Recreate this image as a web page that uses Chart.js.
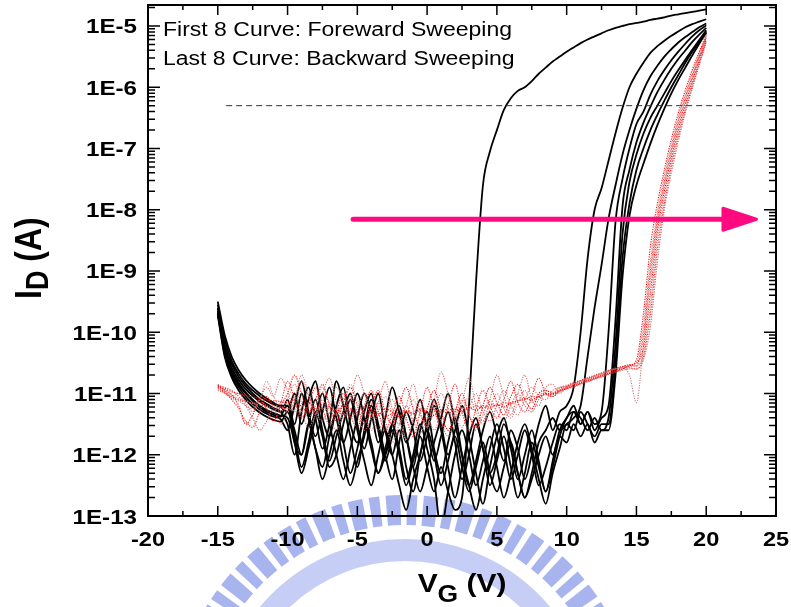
<!DOCTYPE html>
<html>
<head>
<meta charset="utf-8">
<title>ID-VG hysteresis sweeps</title>
<script src="https://cdn.jsdelivr.net/npm/chart.js@4.4.1/dist/chart.umd.min.js"></script>
<style>
  html, body { margin: 0; padding: 0; background: #fff; overflow: hidden; }
</style>
</head>
<body>
<canvas id="idvg" width="791" height="607"></canvas>
<script>
// Gate voltage grid shared by every sweep (V)
const vgGrid = [
  -15, -14.5, -14, -13.5, -13, -12.5, -12, -11.5, -11, -10.5,
  -10, -9.5, -9, -8.5, -8, -7.5, -7, -6.5, -6, -5.5,
  -5, -4.5, -4, -3.5, -3, -2.5, -2, -1.5, -1, -0.5,
  0, 0.5, 1, 1.5, 2, 2.5, 3, 3.5, 4, 4.5,
  5, 5.5, 6, 6.5, 7, 7.5, 8, 8.5, 9, 9.5,
  10, 10.5, 11, 11.5, 12, 12.5, 13, 13.5, 14, 14.5,
  15, 15.5, 16, 16.5, 17, 17.5, 18, 18.5, 19, 19.5, 20
];

// Forward sweeps, log10(ID / A) at each grid voltage
const fwd1 = [
  -9.5, -10.05, -10.4, -10.62, -10.78, -10.9, -11.0, -11.08, -11.15, -11.2,
  -11.2, -11.8, -12.0, -11.5, -11.9, -12.2, -11.7, -11.3, -11.8, -12.3,
  -11.9, -11.4, -11.8, -12.3, -12.0, -11.6, -12.0, -12.5, -12.1, -11.7,
  -12.2, -12.6, -12.2, -12.6, -12.9, -12.7, -11.2, -9.2, -7.6, -7.05,
  -6.7, -6.37, -6.18, -6.06, -6.0, -5.9, -5.78, -5.68, -5.58, -5.5,
  -5.42, -5.35, -5.28, -5.22, -5.17, -5.12, -5.07, -5.03, -5.0, -4.97,
  -4.95, -4.93, -4.9, -4.88, -4.86, -4.83, -4.81, -4.79, -4.77, -4.75, -4.73
];
const fwd2 = [
  -9.55, -10.12, -10.47, -10.68, -10.84, -10.95, -11.04, -11.12, -11.18, -11.22,
  -11.3, -11.0, -11.5, -11.1, -10.8, -11.4, -11.7, -11.2, -10.9, -11.5,
  -11.8, -11.3, -11.0, -11.6, -12.0, -11.5, -11.2, -11.7, -12.2, -11.6,
  -11.3, -11.9, -12.3, -11.8, -11.4, -12.0, -12.5, -12.1, -11.6, -11.3,
  -11.7, -12.1, -11.6, -11.9, -12.4, -12.0, -11.5, -11.2, -11.6, -11.3,
  -11.2, -10.9, -10.0, -8.8, -8.0, -7.65, -7.2, -6.75, -6.34, -6.0,
  -5.78, -5.6, -5.44, -5.33, -5.24, -5.16, -5.09, -5.02, -4.97, -4.93, -4.89
];
const fwd3 = [
  -9.6, -10.2, -10.52, -10.73, -10.88, -11.0, -11.1, -11.17, -11.24, -11.3,
  -11.5, -12.0, -11.3, -10.9, -11.4, -11.9, -11.5, -10.8, -11.2, -11.7,
  -12.2, -11.6, -11.1, -11.5, -12.0, -12.4, -11.8, -11.3, -11.6, -12.1,
  -11.7, -11.2, -11.6, -12.2, -12.7, -12.2, -11.7, -11.4, -11.9, -12.3,
  -12.0, -11.5, -11.8, -12.3, -12.7, -12.3, -11.8, -11.6, -11.4, -11.6,
  -11.5, -11.4, -11.2, -10.4, -9.6, -8.9, -8.15, -7.6, -7.1, -6.7,
  -6.35, -6.05, -5.82, -5.65, -5.5, -5.38, -5.27, -5.18, -5.1, -5.02, -4.96
];
const fwd4 = [
  -9.62, -10.25, -10.58, -10.78, -10.93, -11.04, -11.13, -11.2, -11.26, -11.3,
  -11.2, -11.6, -12.0, -11.5, -11.1, -11.6, -12.1, -11.7, -11.3, -11.0,
  -11.5, -11.9, -11.4, -11.0, -11.6, -12.0, -11.6, -12.2, -12.6, -12.0,
  -11.5, -11.1, -11.5, -12.0, -11.6, -11.2, -11.7, -12.3, -12.8, -12.2,
  -11.7, -11.4, -11.9, -12.4, -12.0, -11.6, -12.1, -12.6, -12.2, -11.7,
  -11.4, -11.3, -11.5, -11.3, -11.5, -11.3, -10.0, -8.2, -7.5, -7.0,
  -6.6, -6.4, -6.12, -5.9, -5.72, -5.56, -5.42, -5.29, -5.17, -5.07, -4.99
];
const fwd5 = [
  -9.65, -10.3, -10.62, -10.83, -10.98, -11.1, -11.2, -11.27, -11.32, -11.36,
  -11.4, -11.8, -12.3, -11.9, -11.4, -11.0, -11.5, -12.0, -12.4, -11.9,
  -11.4, -11.0, -11.3, -11.8, -11.4, -10.9, -11.3, -11.8, -11.5, -11.1,
  -11.6, -12.1, -11.7, -11.3, -11.8, -12.4, -12.0, -11.5, -11.9, -12.5,
  -12.1, -11.7, -12.2, -12.7, -12.3, -11.8, -12.2, -12.6, -12.1, -11.6,
  -11.4, -11.2, -11.5, -11.3, -11.6, -11.4, -11.2, -9.8, -7.95, -7.35,
  -6.9, -6.58, -6.32, -6.08, -5.88, -5.7, -5.54, -5.4, -5.26, -5.14, -5.03
];
const fwd6 = [
  -9.68, -10.33, -10.66, -10.86, -11.0, -11.12, -11.22, -11.3, -11.35, -11.38,
  -11.1, -11.5, -11.0, -11.4, -11.9, -12.4, -12.0, -11.6, -12.1, -12.5,
  -12.1, -11.7, -11.2, -11.6, -12.1, -11.7, -11.3, -11.7, -12.2, -12.6,
  -12.2, -11.8, -11.4, -11.0, -11.5, -12.0, -12.5, -12.9, -12.4, -11.9,
  -11.5, -11.9, -12.4, -12.0, -11.6, -12.0, -12.5, -12.2, -11.8, -11.5,
  -11.6, -11.3, -11.4, -11.6, -11.4, -11.6, -11.4, -10.2, -8.4, -7.55,
  -7.1, -6.76, -6.5, -6.3, -6.1, -5.9, -5.72, -5.55, -5.39, -5.23, -5.07
];
const fwd7 = [
  -9.7, -10.37, -10.7, -10.9, -11.05, -11.17, -11.26, -11.33, -11.38, -11.42,
  -11.6, -11.2, -10.8, -11.3, -11.7, -11.3, -10.9, -11.4, -11.8, -11.4,
  -11.0, -11.4, -11.9, -12.3, -11.9, -11.5, -11.9, -12.4, -12.0, -11.5,
  -11.9, -12.4, -13.2, -12.6, -12.0, -11.6, -12.0, -12.5, -12.1, -11.7,
  -12.2, -12.7, -12.3, -11.8, -11.5, -11.9, -12.4, -12.8, -12.3, -11.9,
  -11.5, -11.6, -11.3, -11.5, -11.7, -11.5, -11.5, -10.5, -8.8, -7.9,
  -7.35, -7.0, -6.7, -6.45, -6.22, -6.0, -5.8, -5.6, -5.42, -5.26, -5.09
];
const fwd8 = [
  -9.72, -10.4, -10.74, -10.95, -11.1, -11.22, -11.31, -11.38, -11.43, -11.46,
  -11.3, -11.7, -12.2, -11.8, -11.3, -11.7, -12.2, -12.0, -11.5, -11.1,
  -11.6, -12.1, -12.5, -12.0, -11.6, -12.0, -12.5, -12.9, -12.4, -12.0,
  -11.6, -12.0, -12.5, -12.1, -11.7, -12.2, -12.6, -12.2, -11.8, -12.3,
  -12.6, -12.2, -11.8, -12.3, -12.7, -12.4, -12.0, -11.7, -12.0, -11.7,
  -11.8, -11.5, -11.7, -11.5, -11.8, -11.6, -11.6, -10.7, -9.1, -8.1,
  -7.6, -7.25, -6.92, -6.62, -6.35, -6.1, -5.88, -5.68, -5.48, -5.29, -5.11
];

// Backward sweeps, log10(ID / A) on the same grid
const bwd1 = [
  -10.88, -10.92, -10.97, -11.0, -11.03, -11.06, -11.08, -11.1, -11.12, -11.13,
  -11.15, -11.1, -11.2, -11.15, -11.25, -11.18, -11.22, -11.3, -11.2, -11.25,
  -11.3, -11.22, -11.28, -11.35, -11.25, -11.3, -11.38, -11.28, -11.32, -11.26,
  -11.3, -11.36, -11.27, -11.33, -11.25, -11.3, -11.22, -11.28, -11.2, -11.24,
  -11.18, -11.22, -11.15, -11.12, -11.08, -11.1, -11.05, -11.0, -11.02, -10.96,
  -10.92, -10.88, -10.84, -10.8, -10.76, -10.72, -10.68, -10.64, -10.6, -10.55,
  -10.45, -9.7, -8.6, -7.9, -7.35, -6.85, -6.42, -6.05, -5.72, -5.42, -5.14
];
const bwd2 = [
  -10.85, -10.95, -11.05, -11.0, -11.15, -11.3, -11.1, -10.9, -11.05, -10.75,
  -10.95, -11.3, -10.8, -11.05, -11.35, -11.0, -10.75, -11.15, -11.4, -11.1,
  -10.7, -11.0, -11.35, -11.15, -10.8, -11.25, -11.5, -11.2, -10.85, -11.3,
  -11.5, -11.1, -10.65, -11.0, -11.4, -11.15, -10.75, -11.2, -11.45, -11.1,
  -10.7, -11.05, -11.35, -11.0, -10.7, -11.1, -11.2, -10.9, -10.85, -11.0,
  -10.9, -10.85, -10.8, -10.76, -10.72, -10.68, -10.64, -10.6, -10.57, -10.53,
  -10.5, -9.9, -8.85, -8.05, -7.45, -6.95, -6.5, -6.12, -5.78, -5.46, -5.16
];
const bwd3 = [
  -10.9, -10.98, -11.1, -11.25, -11.45, -11.55, -11.3, -11.05, -11.2, -11.15,
  -10.8, -11.1, -11.4, -11.2, -10.9, -11.25, -11.5, -11.3, -11.0, -11.35,
  -11.55, -11.2, -10.95, -11.3, -11.6, -11.35, -11.05, -11.4, -11.7, -11.3,
  -10.9, -11.25, -11.55, -11.2, -10.85, -11.3, -11.6, -11.25, -10.95, -11.2,
  -11.4, -11.1, -10.8, -11.15, -11.3, -11.05, -10.75, -11.0, -11.05, -10.95,
  -10.9, -10.86, -10.82, -10.78, -10.74, -10.7, -10.66, -10.62, -10.58, -10.55,
  -10.55, -10.05, -9.0, -8.15, -7.55, -7.02, -6.56, -6.17, -5.82, -5.49, -5.18
];
const bwd4 = [
  -10.95, -11.0, -11.08, -11.12, -11.2, -11.25, -11.15, -11.2, -11.28, -11.22,
  -11.3, -11.1, -10.7, -11.0, -11.3, -11.45, -11.2, -10.9, -11.15, -11.4,
  -11.25, -11.0, -11.3, -11.6, -11.35, -11.1, -11.4, -11.75, -11.45, -11.15,
  -11.35, -11.6, -11.3, -11.05, -11.35, -11.55, -11.25, -11.0, -11.3, -11.45,
  -11.2, -10.95, -11.2, -11.35, -11.1, -10.9, -11.05, -11.1, -10.95, -10.9,
  -10.88, -10.84, -10.8, -10.76, -10.72, -10.68, -10.63, -10.6, -10.58, -10.7,
  -11.15, -10.2, -9.15, -8.25, -7.62, -7.08, -6.62, -6.22, -5.86, -5.52, -5.2
];
const bwd5 = [
  -10.87, -10.94, -11.02, -11.2, -11.5, -11.35, -11.1, -11.25, -11.45, -11.2,
  -11.0, -10.7, -11.0, -11.3, -11.1, -10.85, -11.2, -11.45, -11.15, -10.9,
  -11.2, -11.5, -11.2, -10.95, -11.3, -11.5, -11.2, -10.9, -11.25, -11.55,
  -11.25, -10.95, -11.3, -11.6, -11.3, -11.0, -11.35, -11.55, -11.2, -10.9,
  -11.15, -11.35, -11.05, -10.85, -11.1, -11.25, -11.0, -10.95, -11.0, -10.92,
  -10.88, -10.83, -10.79, -10.75, -10.71, -10.67, -10.63, -10.59, -10.56, -10.53,
  -10.5, -10.25, -9.35, -8.35, -7.7, -7.15, -6.68, -6.27, -5.9, -5.55, -5.22
];
const bwd6 = [
  -10.9, -10.96, -11.03, -11.08, -11.12, -11.16, -11.1, -10.8, -11.05, -11.3,
  -11.1, -10.85, -11.15, -11.4, -11.2, -10.9, -11.15, -11.35, -11.1, -10.85,
  -11.1, -11.35, -11.6, -11.3, -11.05, -11.35, -11.7, -11.4, -11.1, -11.35,
  -11.55, -11.3, -11.0, -11.25, -11.5, -11.3, -11.05, -11.3, -11.5, -11.25,
  -11.0, -11.25, -11.4, -11.15, -10.95, -11.15, -11.05, -10.95, -10.98, -10.9,
  -10.86, -10.82, -10.78, -10.74, -10.7, -10.66, -10.62, -10.59, -10.56, -10.54,
  -10.55, -10.35, -9.55, -8.5, -7.8, -7.22, -6.74, -6.32, -5.94, -5.58, -5.23
];
const bwd7 = [
  -10.92, -10.99, -11.06, -11.1, -11.13, -11.16, -11.19, -11.21, -11.23, -11.24,
  -11.25, -11.2, -11.28, -11.22, -11.3, -11.24, -11.32, -11.26, -11.33, -11.28,
  -11.35, -11.3, -11.37, -11.32, -11.38, -11.33, -11.36, -11.3, -11.34, -11.28,
  -11.32, -11.27, -11.3, -11.25, -11.29, -11.23, -11.26, -11.2, -11.24, -11.18,
  -11.2, -11.15, -11.17, -11.12, -11.1, -11.05, -11.06, -11.01, -11.0, -10.95,
  -10.91, -10.87, -10.83, -10.79, -10.75, -10.71, -10.67, -10.63, -10.6, -10.58,
  -10.6, -10.4, -9.7, -8.65, -7.9, -7.3, -6.8, -6.37, -5.98, -5.61, -5.25
];
const bwd8 = [
  -10.86, -10.9, -10.95, -11.05, -11.2, -11.4, -11.6, -11.45, -11.25, -11.5,
  -11.3, -11.05, -11.3, -11.55, -11.35, -11.1, -11.4, -11.6, -11.3, -11.05,
  -11.35, -11.6, -11.4, -11.15, -11.45, -11.8, -11.5, -11.2, -11.45, -11.65,
  -11.4, -11.15, -11.45, -11.7, -11.4, -11.1, -11.35, -11.6, -11.35, -11.1,
  -11.3, -11.45, -11.2, -11.0, -11.2, -11.3, -11.1, -11.0, -11.05, -10.97,
  -10.93, -10.89, -10.85, -10.81, -10.77, -10.73, -10.69, -10.65, -10.62, -10.6,
  -10.6, -10.45, -9.9, -8.85, -8.0, -7.4, -6.88, -6.42, -6.02, -5.64, -5.27
];

const forwardSweeps = [fwd1, fwd2, fwd3, fwd4, fwd5, fwd6, fwd7, fwd8];
const backwardSweeps = [bwd1, bwd2, bwd3, bwd4, bwd5, bwd6, bwd7, bwd8];

// Axis ticks
const xTickValues = [-20, -15, -10, -5, 0, 5, 10, 15, 20, 25];
const yTickValues = [1e-13, 1e-12, 1e-11, 1e-10, 1e-9, 1e-8, 1e-7, 1e-6, 1e-5];
const yTickLabels = ['1E-13', '1E-12', '1E-11', '1E-10', '1E-9', '1E-8', '1E-7', '1E-6', '1E-5'];

// Reference current level and the shift arrow
const refCurrent = 5e-7;
const refVg = [-14.4, 25];
const arrowVg = [-5.3, 21.2, 23.6];   // tail, head base, tip
const arrowCurrent = 7e-9;

const notes = ['First 8 Curve: Foreward Sweeping', 'Last 8 Curve: Backward Sweeping'];

const FONT = '"Liberation Sans", Arial, Helvetica, sans-serif';
const STRETCH = 1.15;   // glyphs in this figure are a little wide

const toPoints = logs => vgGrid.map((v, i) => ({ x: v, y: Math.pow(10, logs[i]) }));

const redShades = ['#ff0000', '#d86a6a', '#ff1a1a', '#c87878', '#ff0000', '#dc8080', '#f02828', '#c86464'];

const datasets = [];

// arrow shaft (drawn on top)
datasets.push({
  data: [{ x: arrowVg[0], y: arrowCurrent }, { x: arrowVg[1], y: arrowCurrent }],
  borderColor: '#ff0a80',
  borderWidth: 5,
  borderCapStyle: 'round',
  pointRadius: 0
});

// dashed reference level
datasets.push({
  data: refVg.map(v => ({ x: v, y: refCurrent })),
  borderColor: '#333',
  borderWidth: 1,
  borderDash: [6, 4],
  pointRadius: 0
});

backwardSweeps.forEach((s, k) => {
  datasets.push({
    data: toPoints(s),
    borderColor: redShades[k],
    borderWidth: 1.1,
    borderDash: [1.2, 1.3],
    pointRadius: 0,
    cubicInterpolationMode: 'monotone'
  });
});

forwardSweeps.forEach(s => {
  datasets.push({
    data: toPoints(s),
    borderColor: '#000',
    borderWidth: 1.8,
    pointRadius: 0,
    cubicInterpolationMode: 'monotone'
  });
});

function stretchedText(ctx, text, x, y, font, align) {
  ctx.save();
  ctx.translate(x, y);
  ctx.scale(STRETCH, 1);
  ctx.font = font;
  ctx.textAlign = align || 'left';
  ctx.textBaseline = 'alphabetic';
  ctx.fillText(text, 0, 0);
  ctx.restore();
}

// pale university seal behind the lower axis
const seal = {
  id: 'seal',
  beforeDraw(chart) {
    const ctx = chart.ctx;
    ctx.save();
    ctx.fillStyle = '#fff';
    ctx.fillRect(0, 0, chart.width, chart.height);
    const cx = 405, cy = 728;
    ctx.strokeStyle = '#a8b4ee';
    ctx.lineWidth = 30;
    ctx.setLineDash([14, 6, 10, 6]);
    ctx.beginPath();
    ctx.arc(cx, cy, 218, Math.PI, 2 * Math.PI);
    ctx.stroke();
    ctx.setLineDash([]);
    ctx.strokeStyle = '#c6cef5';
    ctx.lineWidth = 22;
    ctx.beginPath();
    ctx.arc(cx, cy, 178, Math.PI, 2 * Math.PI);
    ctx.stroke();
    ctx.restore();
  }
};

// arrow head at the end of the shaft
const arrowHead = {
  id: 'arrowHead',
  afterDatasetsDraw(chart) {
    const { ctx, scales: { x, y } } = chart;
    const xb = x.getPixelForValue(arrowVg[1]);
    const xt = x.getPixelForValue(arrowVg[2]);
    const yc = y.getPixelForValue(arrowCurrent);
    ctx.save();
    ctx.fillStyle = '#ff0a80';
    ctx.strokeStyle = '#ff0a80';
    ctx.lineWidth = 3;
    ctx.lineJoin = 'round';
    ctx.beginPath();
    ctx.moveTo(xb, yc - 11);
    ctx.lineTo(xt, yc);
    ctx.lineTo(xb, yc + 11);
    ctx.closePath();
    ctx.fill();
    ctx.stroke();
    ctx.restore();
  }
};

// frame, inward ticks, tick labels, axis titles and notes
const frame = {
  id: 'frame',
  afterDraw(chart) {
    const { ctx, chartArea: a, scales: { x, y } } = chart;
    ctx.save();
    ctx.strokeStyle = '#000';
    ctx.fillStyle = '#000';
    ctx.lineWidth = 2;
    ctx.strokeRect(a.left, a.top, a.right - a.left, a.bottom - a.top);

    ctx.lineWidth = 1.5;
    ctx.beginPath();
    // x ticks: major every 5 V, minor half way
    xTickValues.forEach((v, i) => {
      const px = x.getPixelForValue(v);
      ctx.moveTo(px, a.bottom); ctx.lineTo(px, a.bottom - 10);
      ctx.moveTo(px, a.top); ctx.lineTo(px, a.top + 10);
      if (i < xTickValues.length - 1) {
        const pm = x.getPixelForValue((v + xTickValues[i + 1]) / 2);
        ctx.moveTo(pm, a.bottom); ctx.lineTo(pm, a.bottom - 5);
        ctx.moveTo(pm, a.top); ctx.lineTo(pm, a.top + 5);
      }
    });
    // y ticks: decades plus 2..9 minors
    yTickValues.forEach(v => {
      const py = y.getPixelForValue(v);
      ctx.moveTo(a.left, py); ctx.lineTo(a.left + 12, py);
      ctx.moveTo(a.right, py); ctx.lineTo(a.right - 12, py);
      for (let m = 2; m <= 9; m++) {
        const mv = v * m;
        if (mv > y.max) break;
        const pm = y.getPixelForValue(mv);
        ctx.moveTo(a.left, pm); ctx.lineTo(a.left + 7, pm);
        ctx.moveTo(a.right, pm); ctx.lineTo(a.right - 7, pm);
      }
    });
    ctx.stroke();

    const tickFont = 'bold 21px ' + FONT;
    yTickValues.forEach((v, i) => {
      stretchedText(ctx, yTickLabels[i], a.left - 11, y.getPixelForValue(v) + 7.5, tickFont, 'right');
    });
    xTickValues.forEach(v => {
      stretchedText(ctx, String(v), x.getPixelForValue(v), a.bottom + 30, 'bold 20.5px ' + FONT, 'center');
    });

    // x title: V_G (V)
    const big = 'bold 26px ' + FONT, sub = 'bold 23px ' + FONT;
    ctx.font = big;
    const wV = ctx.measureText('V').width, wTail = ctx.measureText(' (V)').width;
    ctx.font = sub;
    const wG = ctx.measureText('G').width;
    let tx = (a.left + a.right) / 2 - STRETCH * (wV + wG + wTail) / 2;
    stretchedText(ctx, 'V', tx, 592, big);
    tx += STRETCH * wV;
    stretchedText(ctx, 'G', tx, 602, sub);
    tx += STRETCH * wG;
    stretchedText(ctx, ' (V)', tx, 592, big);

    // y title: I_D (A), rotated
    const bigY = 'bold 32px ' + FONT, subY = 'bold 27px ' + FONT;
    ctx.save();
    ctx.font = bigY;
    const wI = ctx.measureText('I').width;
    ctx.font = subY;
    const wD = ctx.measureText('D').width;
    ctx.translate(41, 299);
    ctx.rotate(-Math.PI / 2);
    ctx.scale(1, STRETCH);
    ctx.textBaseline = 'alphabetic';
    ctx.font = bigY;
    ctx.fillText('I', 0, 0);
    ctx.font = subY;
    ctx.fillText('D', wI, 6);
    ctx.font = bigY;
    ctx.fillText(' (A)', wI + wD, 0);
    ctx.restore();

    // notes in the upper left corner
    notes.forEach((t, i) => {
      stretchedText(ctx, t, a.left + 15, 36 + i * 29, '20px ' + FONT);
    });
    ctx.restore();
  }
};

new Chart(document.getElementById('idvg'), {
  type: 'line',
  data: { datasets },
  options: {
    responsive: false,
    animation: false,
    devicePixelRatio: 1,
    layout: { padding: { top: 5, right: 15, left: 0, bottom: 0 } },
    plugins: { legend: { display: false }, tooltip: { enabled: false } },
    scales: {
      x: {
        type: 'linear', min: -20, max: 25,
        ticks: { display: false }, grid: { display: false }, border: { display: false },
        afterFit: s => { s.height = 91; }
      },
      y: {
        type: 'logarithmic', min: 1e-13, max: 2.2e-5,
        ticks: { display: false }, grid: { display: false }, border: { display: false },
        afterFit: s => { s.width = 148; }
      }
    }
  },
  plugins: [seal, arrowHead, frame]
});
</script>
</body>
</html>
